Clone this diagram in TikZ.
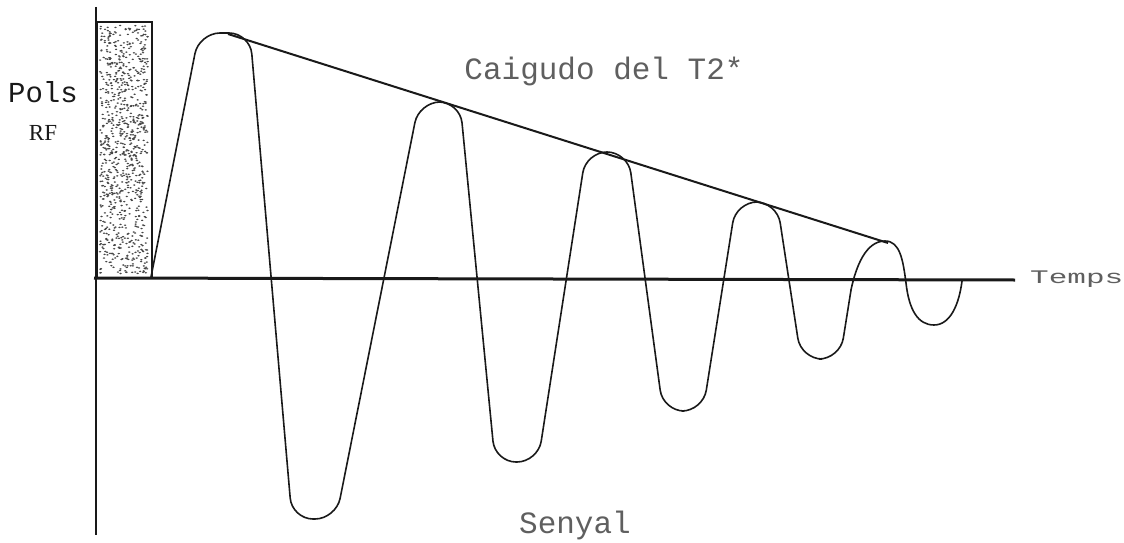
\documentclass[tikz,border=0pt]{standalone}
\usepackage{fontspec}
\usepackage{tikz}
\usetikzlibrary{positioning}
\newfontfamily\matriu{Liberation Mono}
\newfontfamily\lletraRF{Liberation Serif}
\definecolor{tinta}{RGB}{25,25,25}
\definecolor{grisT}{RGB}{95,95,95}
\definecolor{puntsC}{RGB}{70,70,70}
\tikzset{
  eix/.style={draw=tinta, line width=#1},
  senyal/.style={draw=tinta, line width=1.6pt, line join=round, line cap=round},
  envolvent/.style={draw=tinta, line width=2pt},
  etiq/.style={inner sep=0pt, text=grisT, font=\matriu\fontsize{31}{36}\selectfont},
}

\begin{document}
\begin{tikzpicture}[x=1pt, y=-1pt]
        \useasboundingbox (0,0) rectangle (1124,543);
        \pgfmathsetseed{11}
        % pols RF (rectangle puntejat)
        \foreach \k in {1,...,900}
          \fill[puntsC] ({100+48*rnd},{25+249*rnd}) ellipse (1.3pt and 0.8pt);
        \draw[eix=1.6pt] (97,22) rectangle (152,278);
        % eixos
        \coordinate (eixYa) at (96,7);
        \coordinate (eixYb) at (96,535);
        \coordinate (eixXa) at (94,278);
        \coordinate (eixXb) at (1015,280);
        \draw[eix=1.5pt] (eixYa) -- (eixYb);
        \draw[eix=3pt] (eixXa) -- (eixXb);
        % senyal
        \coordinate (tall) at (851,290);
        \draw[senyal, rounded corners=21pt] (151,277)
          -- (199,33) -- (250,33)
          -- (292,519) -- (336,519)
          -- (419,102) -- (460,102)
          -- (495,462) -- (538,462)
          -- (586,152) -- (628,152)
          -- (663,411) -- (703,411)
          -- (736,202) -- (777,202)
          -- (801,359) -- (840,359)
          -- (tall);
        \draw[senyal] (tall) .. controls (856,266) and (866,241) .. (885,241)
          .. controls (900,241) and (903,260) .. (906,283)
          .. controls (909,310) and (918,325) .. (934,325)
          .. controls (950,325) and (959,305) .. (962,281);
        % caiguda
        \coordinate (cim1) at (228,34);
        \coordinate (cim5) at (888,243);
        \draw[envolvent] (cim1) -- (cim5);
        % textos
        \node[etiq, font=\matriu\fontsize{29}{34}\selectfont, text=tinta] (pols) at (43,92) {Pols};
        \node[inner sep=0pt, font=\lletraRF\fontsize{23}{27}\selectfont, text=tinta, below=22pt of pols] (rf) {RF};
        \node[etiq, anchor=base] (caiguda) at (604,80) {Caigudo del T2*};
        \node[etiq, right=15pt of eixXb, anchor=base west, yshift=-3pt] (temps) {\scalebox{1}[0.62]{Temps}};
        \node[etiq, anchor=base] (senyal) at (575,533) {Senyal};
      \end{tikzpicture}
\end{document}
